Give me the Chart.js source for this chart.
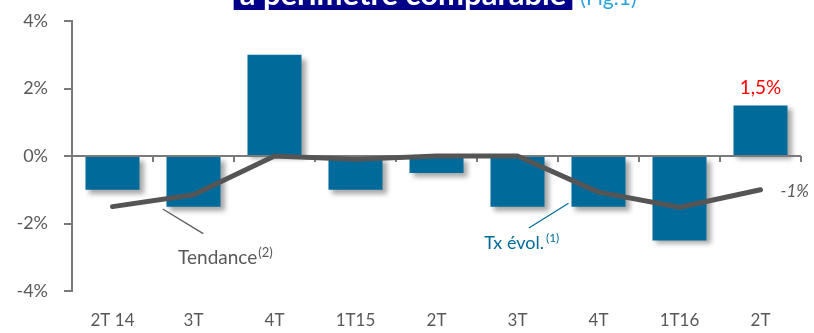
<!DOCTYPE html>
<html>
<head>
<meta charset="utf-8">
<script src="https://cdn.jsdelivr.net/npm/chart.js@4.4.1/dist/chart.umd.min.js"></script>
<style>
  html, body { margin: 0; padding: 0; background: #fff; }
  #wrap { width: 814px; height: 333px; }
</style>
</head>
<body>
<div id="wrap"><canvas id="evol"></canvas></div>
<script>
// Données
const trimestres = ["2T 14", "3T", "4T", "1T15", "2T", "3T", "4T", "1T16", "2T"];
const txEvol = [-1, -1.5, 3, -1, -0.5, -1.5, -1.5, -2.5, 1.5];
const tendance = [-1.5, -1.15, 0, -0.1, 0, 0, -1.07, -1.52, -1];
const yTicks = [-4, -2, 0, 2, 4];

const GRIS = '#595959';
const BLEU = '#006a9a';

// ombre sous les barres + ligne du zéro avec ses petites graduations
const decoPlugin = {
    id: 'deco',
    beforeDatasetDraw(chart, args) {
        if (args.meta.type !== 'bar') return;
        const ctx = chart.ctx;
        ctx.save();
        ctx.shadowColor = 'rgba(0,0,0,0.35)';
        ctx.shadowBlur = 5;
        ctx.shadowOffsetX = 4;
        ctx.shadowOffsetY = 4;
    },
    afterDatasetDraw(chart, args) {
        if (args.meta.type !== 'bar') return;
        const ctx = chart.ctx;
        ctx.restore();

        const y0 = chart.scales.y.getPixelForValue(0);
        const area = chart.chartArea;
        const step = (area.right - area.left) / trimestres.length;
        ctx.save();
        ctx.strokeStyle = '#7a7a7a';
        ctx.lineWidth = 2;
        ctx.beginPath();
        ctx.moveTo(area.left, y0);
        ctx.lineTo(area.right, y0);
        for (let i = 1; i <= trimestres.length; i++) {
            const x = Math.round(area.left + i * step);
            ctx.moveTo(x, y0);
            ctx.lineTo(x, y0 + 6);
        }
        ctx.stroke();
        ctx.restore();
    },
    afterDraw(chart) {
        const ctx = chart.ctx;
        const xs = chart.scales.x;
        const ys = chart.scales.y;
        const last = trimestres.length - 1;
        ctx.save();

        // titre (coupé en haut)
        ctx.font = 'bold 31px Lato';
        ctx.textBaseline = 'alphabetic';
        const titre = 'à périmètre comparable';
        const w = ctx.measureText(titre).width;
        const cx = 403;
        ctx.fillStyle = '#000088';
        ctx.fillRect(cx - w / 2 - 6, 0, w + 12, 10);
        ctx.fillStyle = '#ffffff';
        ctx.textAlign = 'center';
        ctx.fillText(titre, cx, 5);
        ctx.font = '21px Lato';
        ctx.fillStyle = '#2aa3e0';
        ctx.textAlign = 'left';
        ctx.fillText('(Fig.1)', cx + w / 2 + 14, 5);

        // valeur de la dernière barre
        ctx.font = '19px Lato';
        ctx.fillStyle = '#ff0000';
        ctx.textAlign = 'center';
        ctx.fillText('1,5%', xs.getPixelForValue(last), ys.getPixelForValue(txEvol[last]) - 11);

        // valeur de la tendance en fin de courbe
        ctx.font = 'italic 17px Lato';
        ctx.fillStyle = GRIS;
        ctx.textAlign = 'left';
        ctx.textBaseline = 'middle';
        ctx.fillText('-1%', xs.getPixelForValue(last) + 20, ys.getPixelForValue(tendance[last]) + 2);

        // étiquette Tendance
        ctx.strokeStyle = GRIS;
        ctx.lineWidth = 1.2;
        ctx.beginPath();
        ctx.moveTo(xs.getPixelForValue(0.62), ys.getPixelForValue(-1.57));
        ctx.lineTo(xs.getPixelForValue(1.12), ys.getPixelForValue(-2.3));
        ctx.stroke();
        ctx.textBaseline = 'alphabetic';
        ctx.font = '19px Lato';
        let tx = xs.getPixelForValue(0.81);
        let ty = ys.getPixelForValue(-3.21);
        ctx.fillText('Tendance', tx, ty);
        let tw = ctx.measureText('Tendance').width;
        ctx.font = '13px Lato';
        ctx.fillText('(2)', tx + tw + 1, ty - 7);

        // étiquette Tx évol.
        ctx.strokeStyle = BLEU;
        ctx.beginPath();
        ctx.moveTo(xs.getPixelForValue(5.63), ys.getPixelForValue(-1.4));
        ctx.lineTo(xs.getPixelForValue(5.14), ys.getPixelForValue(-2.13));
        ctx.stroke();
        ctx.fillStyle = BLEU;
        ctx.font = '18px Lato';
        tx = xs.getPixelForValue(4.59);
        ty = ys.getPixelForValue(-2.76);
        ctx.fillText('Tx évol.', tx, ty);
        tw = ctx.measureText('Tx évol.').width;
        ctx.font = '12px Lato';
        ctx.fillText('(1)', tx + tw + 2, ty - 7);

        ctx.restore();
    }
};

const chartdata = {
    labels: trimestres,
    datasets: [{
        type: 'line',
        label: 'Tendance',
        data: tendance,
        borderColor: '#555555',
        borderWidth: 5,
        pointRadius: 0,
        tension: 0,
        borderCapStyle: 'round',
        borderJoinStyle: 'round',
        order: 0
    }, {
        type: 'bar',
        label: 'Tx évol.',
        data: txEvol,
        backgroundColor: BLEU,
        categoryPercentage: 1,
        barPercentage: 0.667,
        order: 1
    }]
};

new Chart(document.getElementById('evol'), {
    data: chartdata,
    plugins: [decoPlugin],
    options: {
        responsive: true,
        maintainAspectRatio: false,
        animation: false,
        events: [],
        layout: { padding: { top: 21, right: 13, left: 0, bottom: 0 } },
        plugins: {
            legend: { display: false },
            tooltip: { enabled: false }
        },
        scales: {
            x: {
                grid: { display: false, drawTicks: false },
                border: { display: false },
                ticks: { color: GRIS, font: { family: 'Lato', size: 17 }, padding: 19, maxRotation: 0, autoSkip: false },
                afterFit(scale) { scale.height = 42; }
            },
            y: {
                min: -4,
                max: 4,
                afterBuildTicks(scale) { scale.ticks = yTicks.map(v => ({ value: v })); },
                grid: { drawOnChartArea: false, drawTicks: true, tickLength: 8, tickColor: '#7a7a7a', lineWidth: 2 },
                border: { display: true, color: '#7a7a7a', width: 2 },
                ticks: {
                    color: GRIS,
                    font: { family: 'Lato', size: 18 },
                    padding: 16,
                    callback: v => v + '%'
                },
                afterFit(scale) {
                    scale.width = 72;
                    scale.paddingTop = 0;
                    scale.paddingBottom = 0;
                }
            }
        }
    }
});
</script>
</body>
</html>
